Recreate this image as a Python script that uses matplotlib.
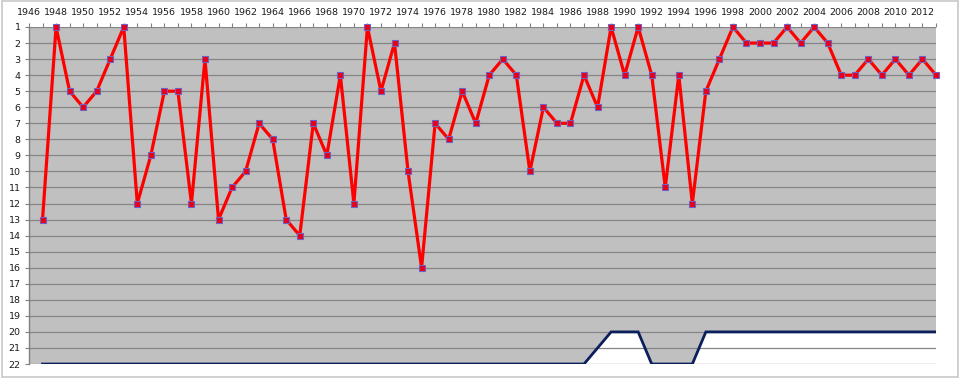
import numpy as np
import matplotlib
matplotlib.use("Agg")
import matplotlib.pyplot as plt
from matplotlib.patches import Rectangle

# Data
years = list(range(1947, 2014))
position = [13, 1, 5, 6, 5, 3, 1, 12, 9, 5, 5, 12, 3, 13, 11, 10, 7, 8, 13, 14,
            7, 9, 4, 12, 1, 5, 2, 10, 16, 7, 8, 5, 7, 4, 3, 4, 10, 6, 7, 7,
            4, 6, 1, 4, 1, 4, 11, 4, 12, 5, 3, 1, 2, 2, 2, 1, 2, 1, 2, 4,
            4, 3, 4, 3, 4, 3, 4]
league_size = [22] * 41 + [21, 20, 20, 20, 22, 22, 22, 22] + [20] * 18

year_ticks = list(range(1946, 2013, 2))
rank_ticks = list(range(1, 23))

fig = plt.figure(figsize=(9.6, 3.78), dpi=100)
fig.patch.set_facecolor("white")
fig.patches.append(Rectangle((0.002, 0.003), 0.996, 0.994, transform=fig.transFigure,
                             fill=False, edgecolor="#c8c8c8", linewidth=1.2))

ax = fig.add_axes([0.0302, 0.037, 0.9448, 0.8916])
ax.set_facecolor("#c0c0c0")

# white area below the league size line
ax.fill_between(years, league_size, 22, color="white", zorder=1, linewidth=0)
ax.plot(years, league_size, color="#0a1f5c", linewidth=2, zorder=3,
        solid_joinstyle="miter")
ax.plot(years, position, color="#ff0000", linewidth=2.3, zorder=4,
        marker="s", markersize=4, markerfacecolor="#e8001a",
        markeredgecolor="#7060c0", markeredgewidth=0.8, clip_on=False)

ax.set_xlim(1946, 2013)
ax.set_ylim(22, 1)

ax.xaxis.tick_top()
ax.set_xticks(year_ticks)
ax.set_xticks(range(1946, 2014), minor=True)
ax.set_xticklabels([str(y) for y in year_ticks])
ax.set_yticks(rank_ticks)
ax.set_yticklabels([str(r) for r in rank_ticks])

ax.tick_params(axis="x", which="major", length=3, width=0.8, color="#808080",
               labelsize=6.8, pad=4, labelcolor="#1a1a1a")
ax.tick_params(axis="x", which="minor", length=3, width=0.8, color="#808080")
ax.tick_params(axis="y", length=3, width=0.8, color="#808080",
               labelsize=6.8, pad=3, labelcolor="#1a1a1a")

ax.grid(axis="y", color="#858585", linewidth=0.9)
ax.set_axisbelow("line")

for side in ["right", "bottom"]:
    ax.spines[side].set_visible(False)
ax.spines["top"].set_visible(False)
ax.spines["left"].set_color("#808080")
ax.spines["left"].set_linewidth(1.0)

fig.savefig("out.png", dpi=100)
